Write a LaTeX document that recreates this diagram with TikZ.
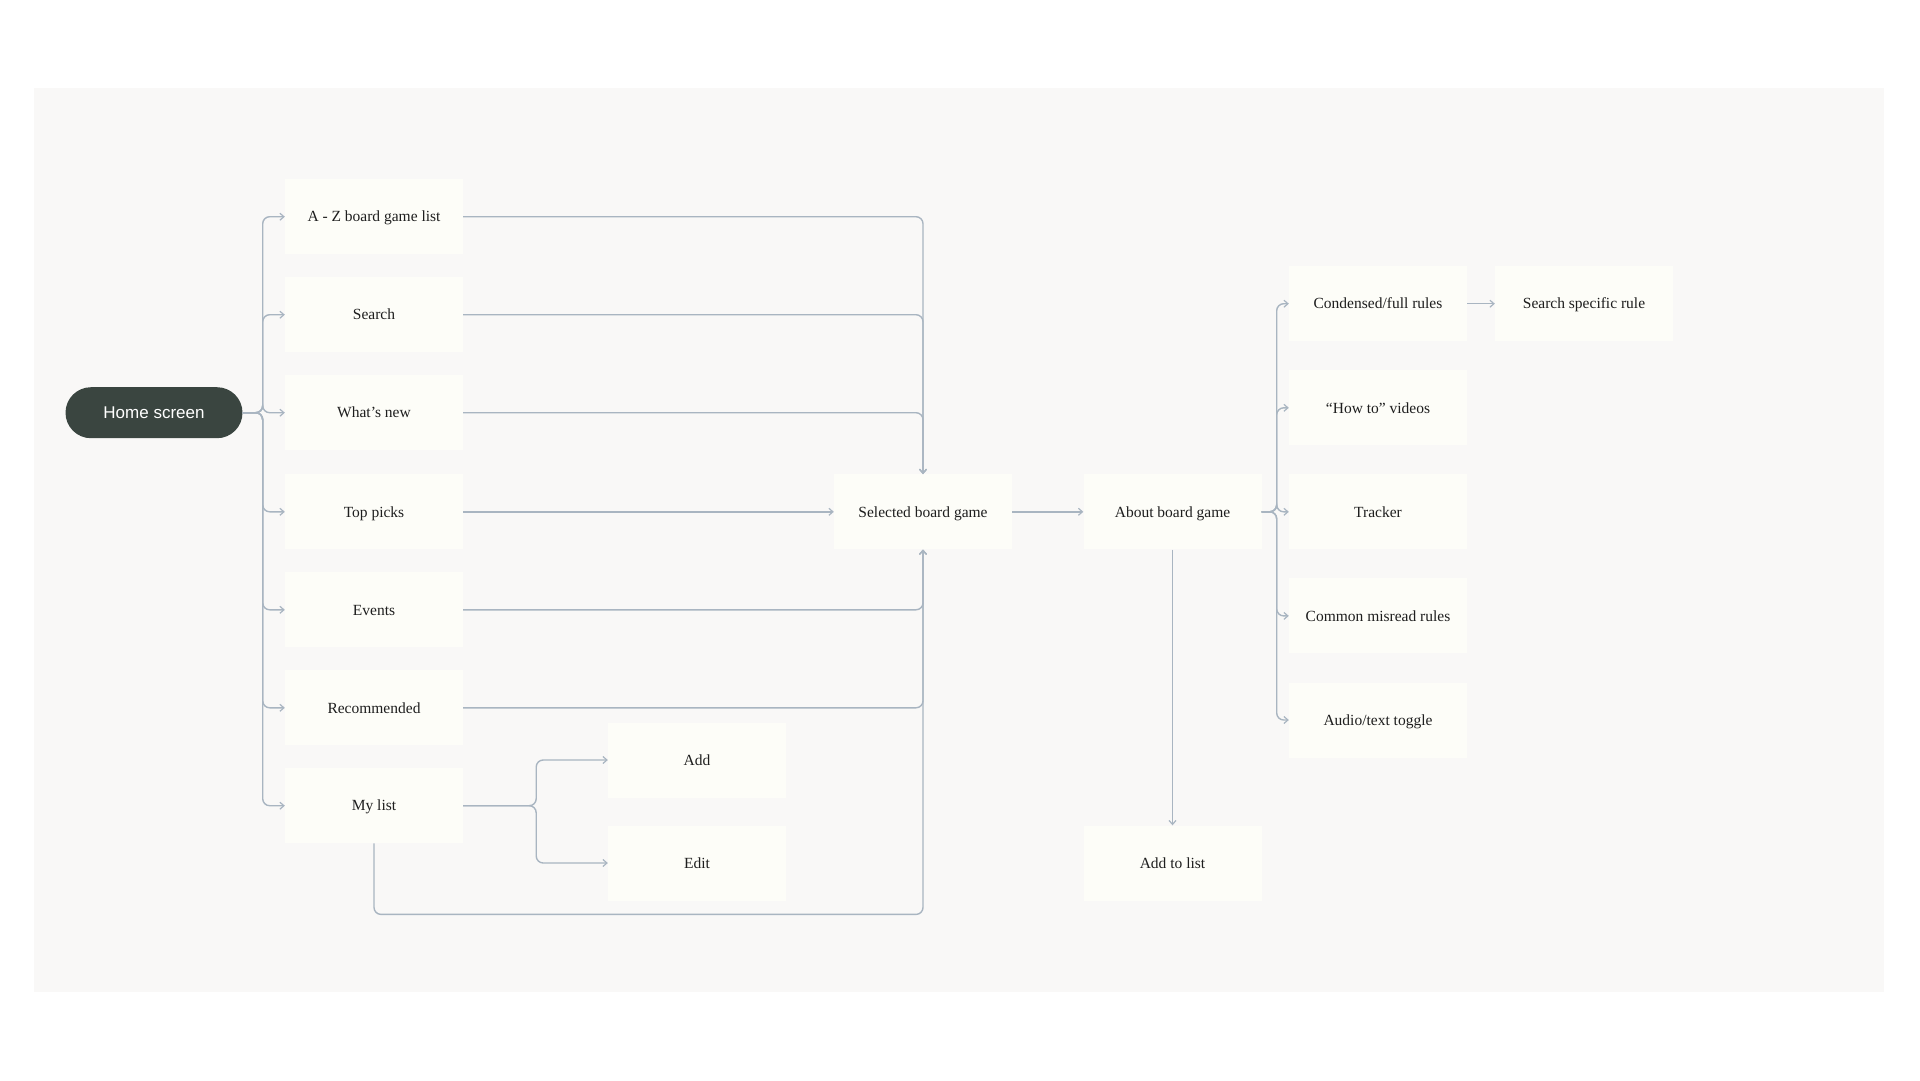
\documentclass[tikz,border=0pt]{standalone}
\usepackage{fontspec}
\setmainfont{Liberation Serif}
\newfontfamily\pillfont{Liberation Sans}
\usetikzlibrary{arrows.meta,calc}
\definecolor{panelbg}{HTML}{F9F8F7}
\definecolor{boxbg}{HTML}{FDFDF8}
\definecolor{lineclr}{HTML}{A9B5C1}
\definecolor{pillclr}{HTML}{3A4540}
\definecolor{txtclr}{HTML}{1E1E1E}
\begin{document}
\begin{tikzpicture}[x=1pt,y=-1pt,
  card/.style={fill=boxbg, draw=none, minimum width=178pt, minimum height=75pt, inner sep=0pt, text height=13.4pt, text depth=3pt, font=\fontsize{15.5}{18}\selectfont, text=txtclr},
  pill/.style={fill=pillclr, draw=none, rounded corners=25.5pt, minimum width=177pt, minimum height=51pt, inner sep=0pt, text height=15pt, text depth=3pt, text=white, font=\pillfont\fontsize{17}{20}\selectfont},
  link/.style={draw=lineclr, line width=1.4pt, rounded corners=7pt},
  arr/.style={link, -{Straight Barb[length=4pt,width=7pt,line width=1.2pt]}},
]
\fill[white] (0,0) rectangle (1920,1080);
\useasboundingbox (0,0) rectangle (1920,1080);
\fill[panelbg] (34,88) rectangle (1884,992);

\node[pill] (home) at (154,412.7) {Home screen};

\node[card] (az) at (374,216.7) {A - Z board game list};
\node[card] (search) at (374,314.7) {Search};
\node[card] (new) at (374,412.7) {What’s new};
\node[card] (top) at (374,511.8) {Top picks};
\node[card] (events) at (374,609.8) {Events};
\node[card] (rec) at (374,707.8) {Recommended};
\node[card] (mylist) at (374,805.7) {My list};

\node[card] (add) at (697,760) {Add};
\node[card] (edit) at (697,863) {Edit};

\node[card] (sel) at (923,511.8) {Selected board game};
\node[card] (about) at (1172.5,511.8) {About board game};
\node[card] (addlist) at (1172.5,863) {Add to list};

\node[card] (cond) at (1378,303.7) {Condensed/full rules};
\node[card] (howto) at (1378,407.8) {“How to” videos};
\node[card] (tracker) at (1378,511.8) {Tracker};
\node[card] (misread) at (1378,615.9) {Common misread rules};
\node[card] (audio) at (1378,720) {Audio/text toggle};
\node[card] (ssr) at (1584,303.7) {Search specific rule};

\foreach \n in {az,search,new,top,events,rec,mylist}
  \draw[arr] (home.east) -- ++(20,0) |- (\n.west);

\foreach \n in {az,search,new}
  \draw[arr] (\n.east) -| (sel.north);
\draw[arr] (top.east) -- (sel.west);
\foreach \n in {events,rec}
  \draw[arr] (\n.east) -| (sel.south);
\draw[arr] (mylist.south) -- ++(0,71) -| (sel.south);

\foreach \n in {add,edit}
  \draw[arr] (mylist.east) -- ++(73,0) |- (\n.west);

\draw[arr] (sel.east) -- (about.west);
\foreach \n in {cond,howto,tracker,misread,audio}
  \draw[arr] (about.east) -- ++(15,0) |- (\n.west);
\draw[arr] (about.south) -- (addlist.north);
\draw[arr] (cond.east) -- (ssr.west);
\end{tikzpicture}
\end{document}
